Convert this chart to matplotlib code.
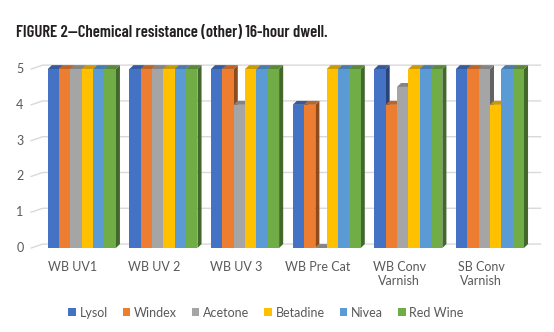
import matplotlib.pyplot as plt
import matplotlib.colors as mcolors
from matplotlib.patches import Polygon, Rectangle

# chemical resistance ratings (0-5) after a 16-hour dwell
categories = ["WB UV1", "WB UV 2", "WB UV 3", "WB Pre Cat", "WB Conv\nVarnish", "SB Conv\nVarnish"]
chemicals = ["Lysol", "Windex", "Acetone", "Betadine", "Nivea", "Red Wine"]
lysol = [5, 5, 5, 4, 5, 5]
windex = [5, 5, 5, 4, 4, 5]
acetone = [5, 5, 4, 0, 4.5, 5]
betadine = [5, 5, 5, 5, 5, 4]
nivea = [5, 5, 5, 5, 5, 5]
red_wine = [5, 5, 5, 5, 5, 5]
series = [lysol, windex, acetone, betadine, nivea, red_wine]
colors = ["#4472C4", "#ED7D31", "#A5A5A5", "#FFC000", "#5B9BD5", "#70AD47"]
yticks = [0, 1, 2, 3, 4, 5]

TXT = "#595959"
FONT = ["Lato", "DejaVu Sans"]

fig = plt.figure(figsize=(5.54, 3.32), dpi=100)
ax = fig.add_axes([0.074, 0.253, 0.884, 0.539])
ax.set_xlim(-0.5, 5.5)
ax.set_ylim(0, 5)
ax.axis("off")

bw = 0.139          # bar width in category units
dx, dy = 0.05, 0.11  # bar depth offset
wx = 0.14            # side-wall offset of the gridlines


def shade(c, f):
    r, g, b = mcolors.to_rgb(c)
    return (r * f, g * f, b * f)


# back-wall gridlines with the slanted left edge
for t in yticks:
    ax.plot([-0.62, -0.62 + wx, 5.62], [t, t + dy, t + dy], color="#d9d9d9",
            lw=1.0, clip_on=False, zorder=0)
    ax.text(-0.76, t, str(t), ha="center", va="center", fontsize=9,
            color=TXT, family=FONT)

n = len(series)
for ci in range(len(categories)):
    x_start = ci - n * bw / 2
    for si, vals in enumerate(series):
        h = vals[ci]
        c = colors[si]
        x0 = x_start + si * bw
        x1 = x0 + bw
        side = Polygon([(x1, 0), (x1 + dx, dy), (x1 + dx, h + dy), (x1, h)],
                       closed=True, facecolor=shade(c, 0.6), edgecolor="none",
                       zorder=2, clip_on=False)
        top = Polygon([(x0, h), (x0 + dx, h + dy), (x1 + dx, h + dy), (x1, h)],
                      closed=True, facecolor=shade(c, 0.8), edgecolor="none",
                      zorder=2, clip_on=False)
        ax.add_patch(side)
        ax.add_patch(top)
        ax.add_patch(Rectangle((x0, 0), bw, h, facecolor=c, edgecolor="none",
                               zorder=3, clip_on=False))

for ci, name in enumerate(categories):
    ax.text(ci - 0.11, -0.36, name, ha="center", va="top", fontsize=9, color=TXT,
            family=FONT, linespacing=1.2)

handles = [Rectangle((0, 0), 1, 1, facecolor=c) for c in colors]
fig.legend(handles, chemicals, loc="center", bbox_to_anchor=(0.48, 0.058),
           ncol=6, frameon=False, handlelength=0.6, handleheight=0.6,
           handletextpad=0.3, columnspacing=1.2,
           prop={"family": FONT, "size": 9}, labelcolor=TXT)

fig.text(0.029, 0.902, "FIGURE 2\u2014Chemical resistance (other) 16-hour dwell.",
         ha="left", va="center", fontsize=12, fontweight=600,
         family=["Barlow Condensed", "DejaVu Sans"], color="#231f20")

fig.savefig("out.png", dpi=100)
